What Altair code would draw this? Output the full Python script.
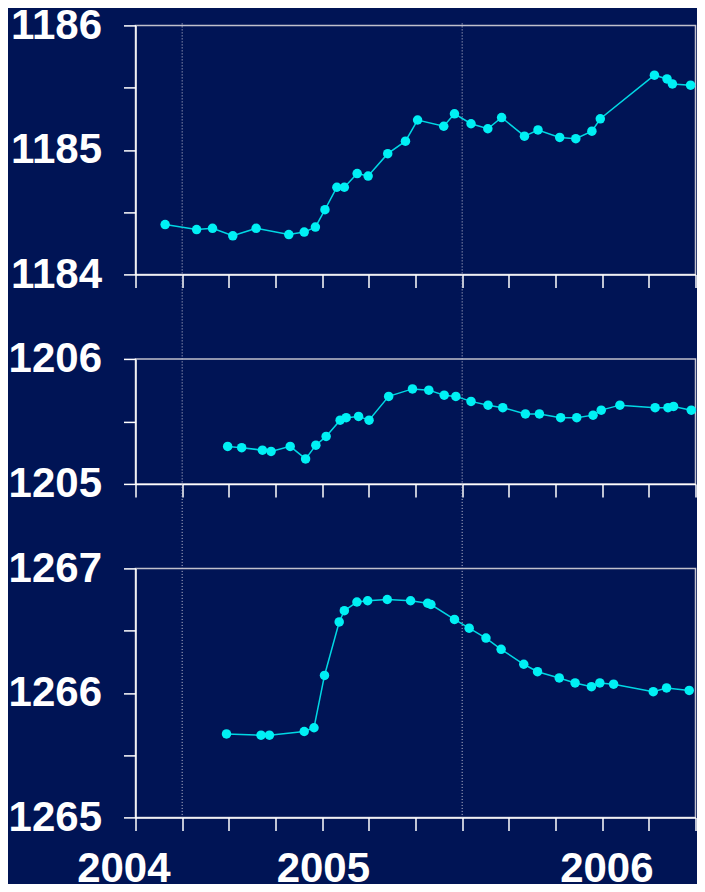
import altair as alt
import pandas as pd

# ---- data (month index from the first tick) ----
months_a = [1.27, 2.62, 3.30, 4.17, 5.17, 6.57, 7.23, 7.71, 8.12, 8.63, 8.95, 9.50, 9.97,
            10.81, 11.57, 12.09, 13.21, 13.67, 14.38, 15.10, 15.69, 16.67, 17.25, 18.18,
            18.87, 19.56, 19.92, 22.24, 22.78, 23.01, 23.79]
values_a = [1184.40, 1184.36, 1184.37, 1184.31, 1184.37, 1184.32, 1184.34, 1184.38, 1184.52,
            1184.70, 1184.70, 1184.81, 1184.79, 1184.97, 1185.07, 1185.24, 1185.19, 1185.29,
            1185.21, 1185.17, 1185.26, 1185.11, 1185.16, 1185.10, 1185.09, 1185.15, 1185.25,
            1185.60, 1185.57, 1185.53, 1185.52]

months_b = [3.95, 4.55, 5.44, 5.81, 6.63, 7.29, 7.73, 8.17, 8.77, 9.03, 9.56, 10.01, 10.85,
            11.87, 12.57, 13.23, 13.73, 14.38, 15.11, 15.74, 16.71, 17.31, 18.22, 18.91,
            19.61, 19.96, 20.76, 22.27, 22.82, 23.06, 23.82]
values_b = [1205.30, 1205.29, 1205.27, 1205.26, 1205.30, 1205.20, 1205.31, 1205.38, 1205.51,
            1205.53, 1205.54, 1205.51, 1205.70, 1205.76, 1205.75, 1205.71, 1205.70, 1205.66,
            1205.63, 1205.61, 1205.56, 1205.56, 1205.53, 1205.53, 1205.55, 1205.59, 1205.63,
            1205.61, 1205.61, 1205.62, 1205.59]

months_c = [3.90, 5.38, 5.74, 7.23, 7.65, 8.10, 8.73, 8.95, 9.49, 9.95, 10.79, 11.79, 12.52,
            12.66, 13.67, 14.30, 15.02, 15.67, 16.64, 17.23, 18.16, 18.84, 19.54, 19.90,
            20.49, 22.19, 22.76, 23.73]
values_c = [1265.67, 1265.66, 1265.66, 1265.69, 1265.72, 1266.14, 1266.57, 1266.66, 1266.73,
            1266.74, 1266.75, 1266.74, 1266.72, 1266.71, 1266.59, 1266.52, 1266.44, 1266.35,
            1266.23, 1266.17, 1266.12, 1266.08, 1266.05, 1266.08, 1266.07, 1266.01, 1266.04,
            1266.02]

ticks_a = [1184, 1184.5, 1185, 1185.5, 1186]
ticks_b = [1205, 1205.5, 1206]
ticks_c = [1265, 1265.5, 1266, 1266.5, 1267]
month_ticks = list(range(25))
ref_months = [2, 14]
year_labels = ["2004", "2005", "2006"]
year_label_pos = [-0.5, 8.05, 20.2]

BG = "#001455"
LINE = "#00d8e4"
DOT = "#00f0f4"
REF = "#c8c8d8"
W = 560
GAP = 84.5
FONT = "Liberation Sans"


def panel(months, values, lo, hi, h, ticks, top_ext, years=False):
    df = pd.DataFrame({"m": months, "v": values})
    x = alt.X("m:Q", scale=alt.Scale(domain=[0, 24], nice=False, zero=False),
              axis=alt.Axis(values=month_ticks, labels=False, title=None, grid=False,
                            tickSize=13))
    y = alt.Y("v:Q", scale=alt.Scale(domain=[lo, hi], nice=False, zero=False),
              axis=alt.Axis(values=ticks, title=None, grid=False, tickSize=12,
                            labelPadding=22, labelOverlap=False,
                            labelExpr="datum.value % 1 == 0 ? format(datum.value, 'd') : ''"))
    rules = alt.Chart(pd.DataFrame({"m": ref_months})).mark_rule(
        color=REF, strokeDash=[1, 2], strokeWidth=1
    ).encode(x=alt.X("m:Q"), y=alt.value(-top_ext), y2=alt.value(h))
    line = alt.Chart(df).mark_line(color=LINE, strokeWidth=1.5).encode(x=x, y=y)
    pts = alt.Chart(df).mark_circle(color=DOT, size=90, opacity=1).encode(x="m:Q", y="v:Q")
    layers = [rules, line, pts]
    if years:
        yd = pd.DataFrame({"m": year_label_pos, "t": year_labels})
        txt = alt.Chart(yd).mark_text(
            font=FONT, fontSize=42, fontWeight="bold", color="white", baseline="middle",
            align="center"
        ).encode(x="m:Q", y=alt.value(h + 52), text="t:N")
        layers.append(txt)
    return alt.layer(*layers).properties(width=W, height=h)


p1 = panel(months_a, values_a, 1184, 1186, 249, ticks_a, 2)
p2 = panel(months_b, values_b, 1205, 1206, 125, ticks_b, GAP)
p3 = panel(months_c, values_c, 1265, 1267, 249, ticks_c, GAP, years=True)

chart = alt.vconcat(p1, p2, p3, spacing=GAP, bounds="flush").properties(
    background=BG, padding={"left": -1.5, "top": -4.6, "right": -1, "bottom": -7}
).configure_view(
    stroke="#c0c0cc", strokeWidth=1.5, fill=BG
).configure_axis(
    domainColor="white", tickColor="white", labelColor="white", labelFont=FONT,
    labelFontSize=42, labelFontWeight="bold", domainWidth=1.5, tickWidth=1.5
)

chart.save("out.html", embed_options={"renderer": "svg", "actions": False})
